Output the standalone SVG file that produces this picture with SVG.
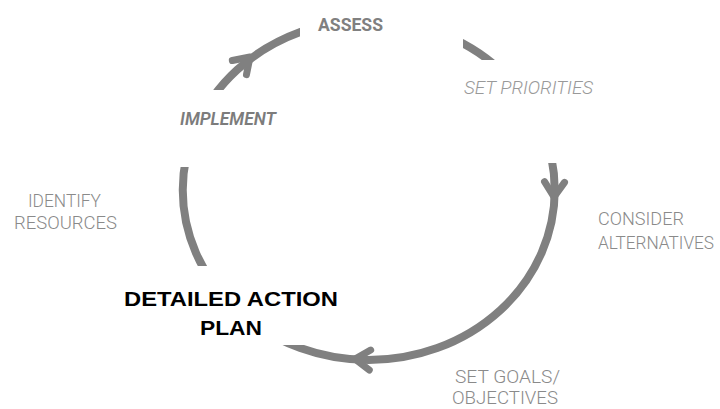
<svg xmlns="http://www.w3.org/2000/svg" xmlns:xlink="http://www.w3.org/1999/xlink" width="720" height="409" viewBox="0 0 720 409">
  <style>
    .ring { fill: none; stroke: #808080; stroke-width: 8; }
    .chev { fill: none; stroke: #808080; stroke-width: 7; stroke-linecap: round; stroke-linejoin: round; }
    .lbl { font-family: Roboto, "Liberation Sans", Arial, sans-serif; font-weight: 300; font-size: 19px; fill: #8a8a8a; }
    .lbl-it { font-family: Roboto, "Liberation Sans", Arial, sans-serif; font-weight: 300; font-style: italic; font-size: 19px; fill: #999999; }
    .lbl-b { font-family: Roboto, "Liberation Sans", Arial, sans-serif; font-weight: 700; font-size: 18px; fill: #808080; }
    .lbl-bi { font-family: Roboto, "Liberation Sans", Arial, sans-serif; font-weight: 600; font-style: italic; font-size: 19px; fill: #7c7c7c; }
    .main { font-family: "Liberation Sans", Arial, sans-serif; font-weight: 700; font-size: 21px; fill: #000; }
  </style>
  <defs>
    <path id="chev" d="M-15,-10 L0,0 L-15,10"/>
    <mask id="gaps" maskUnits="userSpaceOnUse" x="0" y="0" width="720" height="409">
      <rect x="0" y="0" width="720" height="409" fill="#fff"/>
      <rect x="300" y="0" width="163" height="100" fill="#000"/>
      <rect x="440" y="60" width="200" height="103" fill="#000"/>
      <rect x="100" y="266" width="230" height="79" fill="#000"/>
      <rect x="100" y="90" width="140" height="77" fill="#000"/>
    </mask>
  </defs>
  <rect x="0" y="0" width="720" height="409" fill="#fff"/>

  <g id="connectors">
    <ellipse class="ring" cx="368.75" cy="190" rx="186" ry="170" mask="url(#gaps)"/>
    <use xlink:href="#chev" href="#chev" class="chev" transform="translate(250,57) rotate(-45)"/>
    <use xlink:href="#chev" href="#chev" class="chev" transform="translate(554,197) rotate(92)"/>
    <use xlink:href="#chev" href="#chev" class="chev" transform="translate(355,359) rotate(184)"/>
  </g>

  <g id="assess">
    <text class="lbl-b" x="318" y="31" textLength="65" lengthAdjust="spacingAndGlyphs">ASSESS</text>
  </g>
  <g id="set-priorities">
    <text class="lbl-it" x="464" y="94" textLength="129" lengthAdjust="spacingAndGlyphs">SET PRIORITIES</text>
  </g>
  <g id="consider-alternatives">
    <text class="lbl" x="598" y="225" textLength="86" lengthAdjust="spacingAndGlyphs">CONSIDER</text>
    <text class="lbl" x="598" y="249" font-size="18" style="font-size:18px" textLength="116" lengthAdjust="spacingAndGlyphs">ALTERNATIVES</text>
  </g>
  <g id="set-goals">
    <text class="lbl" x="455" y="383" textLength="105" lengthAdjust="spacingAndGlyphs">SET GOALS/</text>
    <text class="lbl" x="452" y="404" textLength="106" lengthAdjust="spacingAndGlyphs">OBJECTIVES</text>
  </g>
  <g id="detailed-action-plan">
    <text class="main" x="124" y="306" textLength="214" lengthAdjust="spacingAndGlyphs">DETAILED ACTION</text>
    <text class="main" x="200" y="335" textLength="62" lengthAdjust="spacingAndGlyphs">PLAN</text>
  </g>
  <g id="identify-resources">
    <text class="lbl" x="28" y="207" textLength="73" lengthAdjust="spacingAndGlyphs">IDENTIFY</text>
    <text class="lbl" x="14" y="229" textLength="103" lengthAdjust="spacingAndGlyphs">RESOURCES</text>
  </g>
  <g id="implement">
    <text class="lbl-bi" x="180" y="125" textLength="96" lengthAdjust="spacingAndGlyphs">IMPLEMENT</text>
  </g>
</svg>
